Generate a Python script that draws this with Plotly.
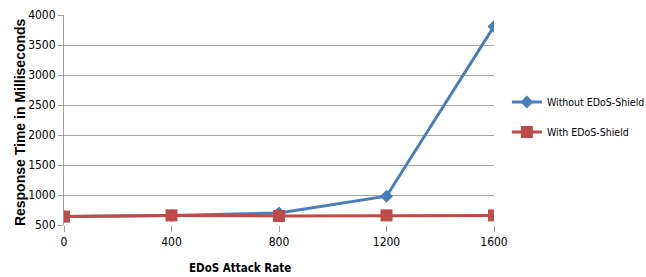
import plotly.graph_objects as go

attack_rate = [0, 400, 800, 1200, 1600]
without_shield = [640, 660, 700, 980, 3810]
with_shield = [640, 660, 650, 660, 660]
y_ticks = [500, 1000, 1500, 2000, 2500, 3000, 3500, 4000]

narrow = "DejaVu Sans Condensed, Liberation Sans Narrow, sans-serif"
bold_font = "Liberation Sans, Arial, sans-serif"

fig = go.Figure()
fig.add_trace(go.Scatter(
    x=attack_rate, y=without_shield, name="Without EDoS-Shield",
    mode="lines+markers", legendgroup="a",
    line=dict(color="#4a7ebb", width=3),
    marker=dict(symbol="diamond", size=10, color="#4a7ebb"),
))
fig.add_trace(go.Scatter(
    x=attack_rate, y=with_shield, name="With EDoS-Shield",
    mode="lines+markers", legendgroup="b",
    line=dict(color="#be4b48", width=3),
    marker=dict(symbol="square", size=12, color="#be4b48"),
))

fig.update_layout(
    width=646, height=277,
    margin=dict(l=64, r=152, t=15, b=52, autoexpand=False),
    paper_bgcolor="white", plot_bgcolor="white",
    font=dict(family=narrow, size=12, color="black"),
    showlegend=True,
    legend=dict(x=1.03, y=0.514, xanchor="left", yanchor="middle",
                font=dict(size=10.5, family=narrow), tracegroupgap=11, itemwidth=30,
                bgcolor="rgba(0,0,0,0)"),
    xaxis=dict(
        range=[0, 1600], tickvals=attack_rate, ticks="outside",
        ticklen=6, tickcolor="#a0a0a0", showgrid=False, zeroline=False,
        showline=False, automargin=False,
    ),
    yaxis=dict(
        range=[500, 4000], tickvals=y_ticks, ticks="outside", ticklen=5,
        tickcolor="#a0a0a0", showgrid=True, gridcolor="#a6a6a6", gridwidth=1,
        zeroline=False, showline=True, linecolor="#a0a0a0", automargin=False,
    ),
    annotations=[
        dict(text="<b>EDoS Attack Rate</b>", xref="paper", yref="paper",
             x=0.41, y=-0.205, xanchor="center", yanchor="middle", showarrow=False,
             font=dict(size=11.5, family=narrow)),
        dict(text="<b>Response Time in Milliseconds</b>", xref="paper", yref="paper",
             x=-0.1023, y=0.49, xanchor="center", yanchor="middle", showarrow=False,
             textangle=-90, font=dict(size=14, family=bold_font)),
    ],
)
fig.write_html("out.html", config={"displayModeBar": False},
               post_script="document.body.style.margin='0';document.body.style.padding='0';")
